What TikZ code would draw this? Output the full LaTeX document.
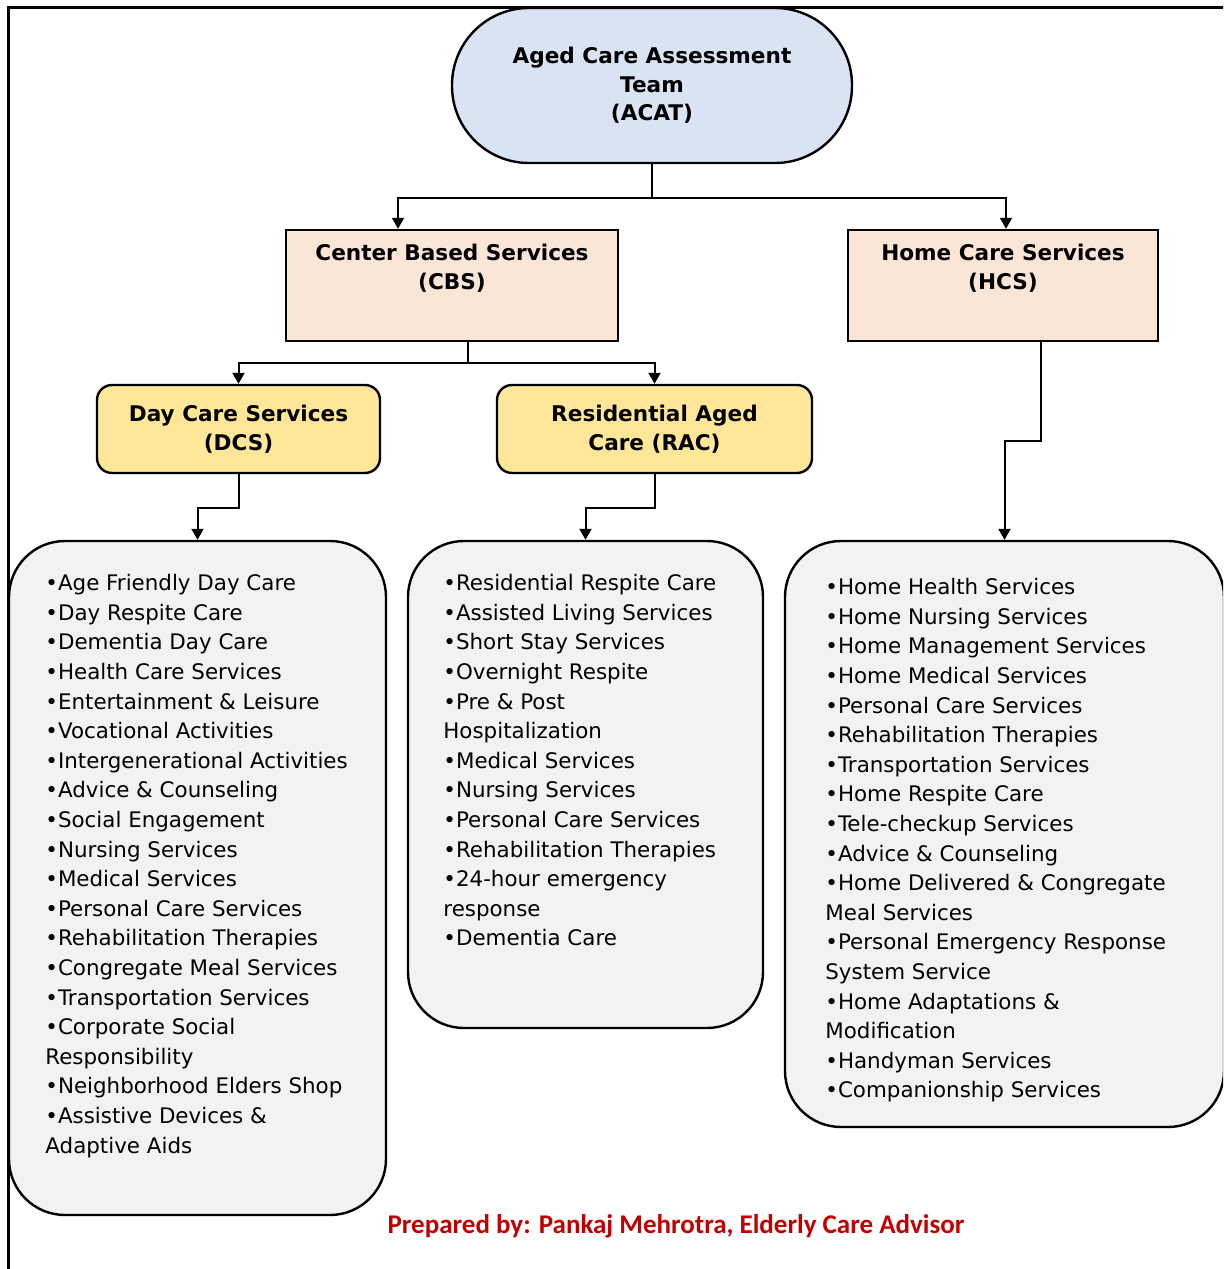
\documentclass[tikz,border=0pt]{standalone}
\usepackage{fontspec}
\setmainfont{DejaVu Sans}
\newfontfamily\footfont{Carlito}
\usetikzlibrary{arrows.meta,positioning}

\definecolor{acatblue}{HTML}{DAE3F3}
\definecolor{peach}{HTML}{FBE5D6}
\definecolor{gold}{HTML}{FFE699}
\definecolor{listgray}{HTML}{F2F2F2}
\definecolor{footred}{HTML}{C00000}

\tikzset{
  headfont/.style={font=\fontsize{10.8}{14.25}\selectfont\bfseries, align=center},
  listfont/.style={font=\fontsize{10.7}{14.8}\selectfont, align=left, anchor=north west, inner sep=0pt},
  conn/.style={line width=1pt, -{Triangle[width=6pt,length=5.5pt]}},
  boxline/.style={draw, line width=1.2pt},
  servbox/.style={boxline, fill=peach, minimum height=55.5pt},
  subbox/.style={boxline, fill=gold, rounded corners=7.5pt, minimum height=44pt, headfont},
  listbox/.style={boxline, fill=listgray, rounded corners=28pt},
}

\begin{document}
\begin{tikzpicture}[x=0.5pt, y=-0.5pt]
    \useasboundingbox (0,0) rectangle (1223,1269);
    \clip (0,0) rectangle (1223,1269);

    % outer frame (cut off on the right and at the bottom)
    \draw[line width=1.5pt] (8,7) rectangle (1260,1300);

    % Top level: assessment team
    \node[boxline, fill=acatblue, rounded corners=38.5pt, minimum width=200pt, minimum height=77.5pt, headfont]
        (acat) at (652,85.5) {Aged Care Assessment\\Team\\(ACAT)};

    % Second level: the two service groups
    \node[servbox, minimum width=166pt] (cbs) at (452,285.5) {};
    \node[headfont] (cbstxt) at (452,268) {Center Based Services\\(CBS)};
    \node[servbox, minimum width=155pt] (hcs) at (1003,285.5) {};
    \node[headfont] (hcstxt) at (1003,268) {Home Care Services\\(HCS)};

    % Third level: centre based options
    \node[subbox, minimum width=141.5pt] (dcs) at (238.5,429) {Day Care Services\\(DCS)};
    \node[subbox, minimum width=157.5pt] (rac) at (654.5,429) {Residential Aged\\Care (RAC)};

    % Lists of services
    \node[listbox, minimum width=188.5pt, minimum height=337pt] (dcslist) at (197.5,878) {};
    \node[listbox, minimum width=177.5pt, minimum height=243.5pt] (raclist) at (585.5,784.5) {};
    \node[listbox, minimum width=219.5pt, minimum height=293pt] (hcslist) at (1004.5,834) {};

    \node[listfont] (dcsitems) at (45,574) {%
        •Age Friendly Day Care\\
        •Day Respite Care\\
        •Dementia Day Care\\
        •Health Care Services\\
        •Entertainment \& Leisure\\
        •Vocational Activities\\
        •Intergenerational Activities\\
        •Advice \& Counseling\\
        •Social Engagement\\
        •Nursing Services\\
        •Medical Services\\
        •Personal Care Services\\
        •Rehabilitation Therapies\\
        •Congregate Meal Services\\
        •Transportation Services\\
        •Corporate Social\\
        Responsibility\\
        •Neighborhood Elders Shop\\
        •Assistive Devices \&\\
        Adaptive Aids};

    \node[listfont] (racitems) at (443,574) {%
        •Residential Respite Care\\
        •Assisted Living Services\\
        •Short Stay Services\\
        •Overnight Respite\\
        •Pre \& Post\\
        Hospitalization\\
        •Medical Services\\
        •Nursing Services\\
        •Personal Care Services\\
        •Rehabilitation Therapies\\
        •24-hour emergency\\
        response\\
        •Dementia Care};

    \node[listfont] (hcsitems) at (825,578) {%
        •Home Health Services\\
        •Home Nursing Services\\
        •Home Management Services\\
        •Home Medical Services\\
        •Personal Care Services\\
        •Rehabilitation Therapies\\
        •Transportation Services\\
        •Home Respite Care\\
        •Tele-checkup Services\\
        •Advice \& Counseling\\
        •Home Delivered \& Congregate\\
        Meal Services\\
        •Personal Emergency Response\\
        System Service\\
        •Home Adaptations \&\\
        Modification\\
        •Handyman Services\\
        •Companionship Services};

    % Footer
    \node[font=\footfont\fontsize{13.5}{16}\selectfont\bfseries, text=footred] (credit) at (676,1226)
        {Prepared by: Pankaj Mehrotra, Elderly Care Advisor};

    % Connectors
    \draw[conn] (acat.south) -- ++(0,33.5) -| ([xshift=-27pt]cbs.north);
    \draw[conn] (acat.south) -- ++(0,33.5) -| ([xshift=1.5pt]hcs.north);
    \draw[conn] ([xshift=8pt]cbs.south) -- ++(0,21) -| (dcs.north);
    \draw[conn] ([xshift=8pt]cbs.south) -- ++(0,21) -| (rac.north);
    \draw[conn] (dcs.south) -- ++(0,34) -| (dcslist.north);
    \draw[conn] (rac.south) -- ++(0,34) -| (raclist.north);
    \draw[conn] ([xshift=19pt]hcs.south) -- ++(0,99) -| (hcslist.north);
\end{tikzpicture}
\end{document}
